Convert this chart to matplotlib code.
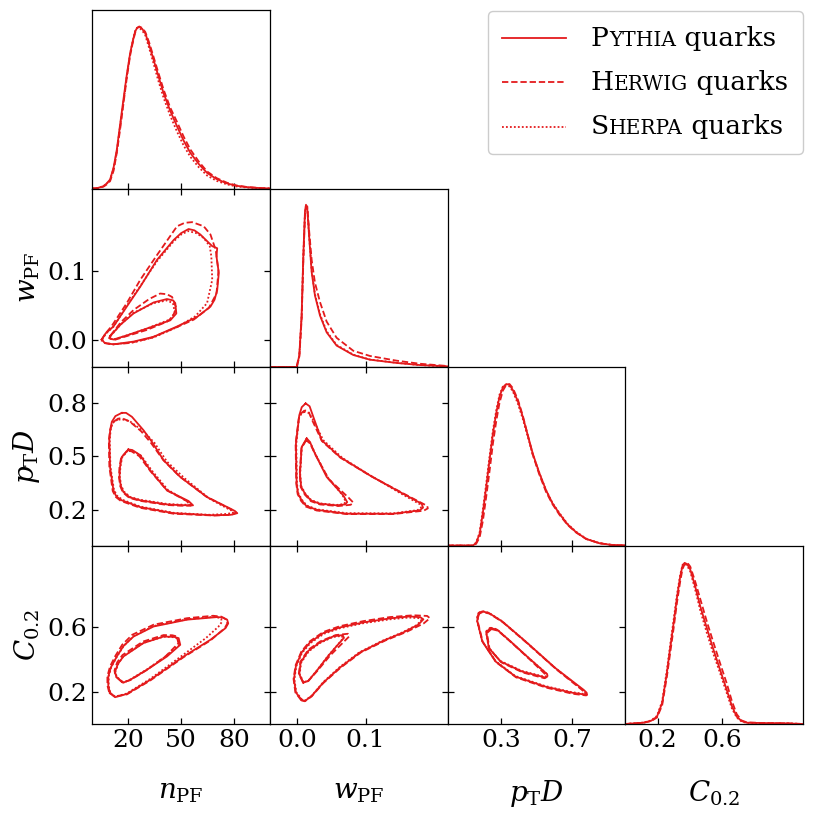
import numpy as np
import matplotlib.pyplot as plt
from matplotlib.offsetbox import AnchoredOffsetbox, HPacker, VPacker, TextArea, DrawingArea
from matplotlib.lines import Line2D

plt.rcParams['font.family'] = 'serif'
plt.rcParams['font.serif'] = ['DejaVu Serif']
plt.rcParams['mathtext.fontset'] = 'dejavuserif'

# variables
var_labels = [r'$n_{\mathrm{PF}}$', r'$w_{\mathrm{PF}}$', r'$p_{\mathrm{T}}D$', r'$C_{0.2}$']
var_ranges = [(0, 100), (-0.04, 0.22), (0, 1.0), (0, 1.1)]
x_ticks = [[20, 50, 80], [0.0, 0.1], [0.3, 0.7], [0.2, 0.6]]
x_ticklabels = [['20', '50', '80'], ['0.0', '0.1'], ['0.3', '0.7'], ['0.2', '0.6']]
y_ticks = [[], [0.0, 0.1], [0.2, 0.5, 0.8], [0.2, 0.6]]
y_ticklabels = [[], ['0.0', '0.1'], ['0.2', '0.5', '0.8'], ['0.2', '0.6']]

generators = ['Pythia', 'Herwig', 'Sherpa']

# 1D distributions (relative height)
n_grid = [0, 3, 6.2, 8, 10, 12, 13.8, 15.6, 17.5, 19.4, 21.3, 22.8, 24.1, 25.2, 26.4, 28, 29.8, 32, 34.5, 37,
          40.1, 43.8, 47.7, 51.4, 55.2, 60, 64.6, 70, 75.9, 81, 87.2, 94, 100]
n_pythia = [0, 0.003, 0.014, 0.03, 0.055, 0.13, 0.24, 0.39, 0.547, 0.70, 0.834, 0.91, 0.967, 0.99, 0.997, 0.985,
            0.957, 0.885, 0.793, 0.70, 0.588, 0.48, 0.383, 0.295, 0.219, 0.15, 0.096, 0.058, 0.031, 0.017, 0.008, 0.003, 0]
n_herwig = [0, 0.002, 0.011, 0.024, 0.045, 0.11, 0.22, 0.36, 0.52, 0.68, 0.82, 0.90, 0.96, 0.988, 0.998, 0.99,
            0.965, 0.90, 0.81, 0.72, 0.61, 0.50, 0.41, 0.32, 0.24, 0.165, 0.105, 0.064, 0.035, 0.019, 0.009, 0.003, 0]
n_sherpa = [0, 0.003, 0.013, 0.028, 0.052, 0.125, 0.23, 0.38, 0.53, 0.69, 0.83, 0.91, 0.97, 0.99, 0.99, 0.975,
            0.945, 0.865, 0.77, 0.67, 0.56, 0.45, 0.35, 0.265, 0.195, 0.13, 0.08, 0.047, 0.025, 0.013, 0.006, 0.002, 0]

w_grid = [-0.04, -0.001, 0.0029, 0.0063, 0.0088, 0.0112, 0.0127, 0.0146, 0.0175, 0.021, 0.0258, 0.0332, 0.0429,
          0.0575, 0.0819, 0.1063, 0.1453, 0.1795, 0.22]
w_pythia = [0, 0, 0.07, 0.317, 0.688, 0.956, 1.0, 0.976, 0.791, 0.585, 0.441, 0.317, 0.214, 0.132, 0.074, 0.045,
            0.025, 0.012, 0.004]
w_herwig = [0, 0, 0.06, 0.29, 0.65, 0.93, 0.985, 0.99, 0.83, 0.66, 0.52, 0.40, 0.28, 0.18, 0.10, 0.068, 0.039, 0.02, 0.006]
w_sherpa = [0, 0, 0.068, 0.31, 0.68, 0.95, 0.995, 0.975, 0.80, 0.595, 0.45, 0.325, 0.22, 0.136, 0.076, 0.046,
            0.026, 0.012, 0.004]

p_grid = [0, 0.142, 0.16, 0.18, 0.198, 0.217, 0.236, 0.255, 0.274, 0.292, 0.311, 0.33, 0.348, 0.367, 0.395, 0.423,
          0.451, 0.479, 0.515, 0.554, 0.59, 0.629, 0.675, 0.723, 0.78, 0.854, 0.92, 1.0]
p_pythia = [0, 0, 0.015, 0.072, 0.20, 0.36, 0.53, 0.69, 0.82, 0.917, 0.975, 0.995, 0.99, 0.958, 0.89, 0.793, 0.68,
            0.567, 0.45, 0.34, 0.26, 0.196, 0.13, 0.082, 0.04, 0.014, 0.004, 0]
p_herwig = [0, 0, 0.01, 0.05, 0.15, 0.30, 0.46, 0.63, 0.77, 0.88, 0.955, 0.99, 0.995, 0.97, 0.90, 0.80, 0.68,
            0.56, 0.44, 0.33, 0.255, 0.19, 0.127, 0.08, 0.04, 0.014, 0.004, 0]
p_sherpa = [0, 0, 0.018, 0.08, 0.22, 0.38, 0.55, 0.71, 0.835, 0.93, 0.98, 0.99, 0.98, 0.95, 0.875, 0.78, 0.67,
            0.56, 0.45, 0.34, 0.262, 0.2, 0.133, 0.085, 0.042, 0.015, 0.004, 0]

c_grid = [0, 0.113, 0.16, 0.196, 0.228, 0.257, 0.278, 0.299, 0.32, 0.34, 0.354, 0.367, 0.383, 0.402, 0.432, 0.464,
          0.505, 0.546, 0.588, 0.628, 0.66, 0.69, 0.72, 0.752, 0.85, 1.0, 1.1]
c_pythia = [0, 0.008, 0.02, 0.045, 0.13, 0.313, 0.47, 0.622, 0.78, 0.91, 0.975, 0.993, 0.985, 0.952, 0.85, 0.725,
            0.59, 0.457, 0.33, 0.21, 0.11, 0.045, 0.018, 0.008, 0.006, 0.004, 0]
c_herwig = [0, 0.008, 0.018, 0.04, 0.115, 0.29, 0.44, 0.59, 0.75, 0.88, 0.955, 0.985, 0.995, 0.97, 0.88, 0.77,
            0.63, 0.50, 0.37, 0.25, 0.14, 0.06, 0.022, 0.01, 0.006, 0.004, 0]
c_sherpa = [0, 0.009, 0.022, 0.05, 0.14, 0.33, 0.49, 0.64, 0.80, 0.92, 0.98, 0.99, 0.975, 0.94, 0.83, 0.70,
            0.56, 0.43, 0.31, 0.19, 0.095, 0.04, 0.015, 0.007, 0.005, 0.004, 0]

# 2D contour outlines (outer and inner level)
nw_pythia_outer = [(5.3, 0.0), (7.5, 0.009), (11.9, 0.019), (19.4, 0.048), (27.0, 0.077), (36.4, 0.116), (45.8, 0.145),
                   (50.0, 0.155), (54.2, 0.161), (57.5, 0.159), (60.8, 0.153), (67.5, 0.136), (70.3, 0.133), (69.9, 0.121),
                   (71.2, 0.097), (70.3, 0.072), (68.8, 0.058), (66.5, 0.048), (59.0, 0.033), (47.7, 0.019), (34.5, 0.004),
                   (23.2, -0.003), (11.9, -0.007), (7.0, -0.005)]
nw_pythia_inner = [(10.0, 0.005), (16.0, 0.022), (23.2, 0.038), (34.5, 0.054), (42.0, 0.059), (45.5, 0.057), (46.7, 0.053),
                   (47.3, 0.038), (43.9, 0.028), (30.7, 0.016), (19.4, 0.006), (11.9, 0.0), (9.5, 0.002)]
nw_herwig_outer = [(5.0, -0.001), (7.5, 0.009), (11.0, 0.020), (19.4, 0.053), (27.0, 0.087), (36.4, 0.123), (47.7, 0.165),
                   (52.0, 0.170), (56.2, 0.171), (62.7, 0.165), (66.5, 0.153), (69.5, 0.130), (71.0, 0.100), (69.9, 0.067),
                   (65.6, 0.046), (57.1, 0.029), (45.8, 0.016), (32.6, 0.002), (21.3, -0.005), (11.0, -0.007), (6.5, -0.005)]
nw_herwig_inner = [(10.3, 0.006), (16.0, 0.025), (23.2, 0.043), (32.0, 0.059), (38.2, 0.067), (42.0, 0.066), (44.9, 0.062),
                   (47.3, 0.046), (45.0, 0.032), (42.0, 0.026), (30.7, 0.014), (19.4, 0.005), (11.9, -0.001), (9.7, 0.002)]
nw_sherpa_outer = [(5.5, 0.0), (7.8, 0.009), (12.0, 0.019), (19.4, 0.049), (27.0, 0.078), (36.4, 0.114), (45.8, 0.143),
                   (50.0, 0.153), (54.0, 0.158), (58.5, 0.155), (62.7, 0.148), (66.1, 0.136), (67.0, 0.121), (67.5, 0.087),
                   (64.6, 0.053), (58.0, 0.034), (47.7, 0.018), (34.5, 0.003), (23.2, -0.004), (11.9, -0.007), (7.2, -0.005)]
nw_sherpa_inner = [(10.2, 0.005), (16.0, 0.022), (23.2, 0.039), (34.5, 0.053), (42.0, 0.057), (45.4, 0.053), (46.5, 0.039),
                   (43.5, 0.029), (30.7, 0.016), (19.4, 0.006), (11.9, 0.0), (9.6, 0.002)]

np_pythia_outer = [(16.6, 0.743), (13.0, 0.725), (11.0, 0.693), (10.1, 0.650), (9.6, 0.590), (10.0, 0.440), (11.9, 0.309),
                   (13.5, 0.275), (16.6, 0.253), (27.0, 0.215), (45.8, 0.181), (68.4, 0.169), (78.0, 0.172), (81.6, 0.181),
                   (80.3, 0.193), (77.8, 0.206), (64.6, 0.271), (49.5, 0.384), (40.1, 0.478), (33.6, 0.580), (28.8, 0.646),
                   (22.3, 0.721), (19.0, 0.743)]
np_pythia_inner = [(20.3, 0.538), (16.6, 0.496), (15.6, 0.440), (15.3, 0.384), (16.0, 0.335), (17.5, 0.300), (21.0, 0.270),
                   (27.0, 0.253), (42.0, 0.230), (50.0, 0.226), (56.7, 0.225), (54.2, 0.249), (42.0, 0.309), (32.6, 0.421),
                   (27.0, 0.506), (22.5, 0.535)]
np_herwig_outer = [(14.7, 0.712), (11.5, 0.690), (10.0, 0.645), (9.3, 0.590), (9.6, 0.440), (11.5, 0.305), (13.2, 0.272),
                   (16.0, 0.250), (27.0, 0.211), (45.8, 0.178), (68.4, 0.168), (78.5, 0.172), (81.0, 0.183), (79.5, 0.195),
                   (77.0, 0.208), (64.0, 0.275), (49.0, 0.388), (40.0, 0.478), (33.0, 0.575), (27.5, 0.640), (21.0, 0.695),
                   (17.0, 0.712)]
np_herwig_inner = [(19.5, 0.530), (16.2, 0.490), (15.3, 0.440), (15.0, 0.384), (15.7, 0.333), (17.2, 0.298), (20.8, 0.267),
                   (27.0, 0.250), (42.0, 0.227), (49.5, 0.223), (55.5, 0.223), (53.5, 0.247), (42.0, 0.309), (32.6, 0.418),
                   (26.5, 0.500), (22.0, 0.528)]
np_sherpa_outer = [(14.2, 0.705), (11.2, 0.685), (10.3, 0.645), (9.8, 0.590), (10.2, 0.440), (12.2, 0.312), (13.9, 0.279),
                   (17.0, 0.256), (27.0, 0.218), (45.8, 0.183), (66.0, 0.172), (76.0, 0.177), (79.5, 0.185), (78.5, 0.195),
                   (76.5, 0.205), (66.0, 0.262), (52.0, 0.376), (42.0, 0.470), (35.0, 0.575), (29.0, 0.638), (21.0, 0.697),
                   (17.0, 0.706)]
np_sherpa_inner = [(20.0, 0.532), (16.8, 0.494), (15.8, 0.440), (15.5, 0.384), (16.2, 0.337), (17.8, 0.302), (21.3, 0.272),
                   (27.0, 0.256), (42.0, 0.233), (49.0, 0.229), (55.0, 0.228), (53.0, 0.250), (42.5, 0.312), (33.5, 0.420),
                   (27.5, 0.503), (22.5, 0.530)]

nc_pythia_outer = [(10.0, 0.190), (12.8, 0.165), (19.4, 0.185), (32.6, 0.272), (51.4, 0.416), (66.5, 0.519), (75.0, 0.591),
                   (76.5, 0.620), (75.9, 0.643), (73.5, 0.656), (70.3, 0.659), (53.3, 0.643), (34.5, 0.601), (23.2, 0.539),
                   (17.5, 0.480), (13.8, 0.416), (10.5, 0.350), (9.0, 0.292), (9.0, 0.235)]
nc_pythia_inner = [(16.6, 0.261), (13.5, 0.290), (12.8, 0.323), (14.5, 0.372), (17.5, 0.416), (28.8, 0.499), (40.1, 0.539),
                   (46.0, 0.537), (48.6, 0.529), (49.5, 0.488), (42.0, 0.416), (30.7, 0.334), (21.3, 0.272), (17.5, 0.255)]
nc_herwig_outer = [(9.5, 0.195), (12.5, 0.170), (19.4, 0.182), (32.6, 0.268), (51.4, 0.412), (66.5, 0.515), (74.5, 0.590),
                   (76.0, 0.620), (75.5, 0.643), (72.5, 0.662), (68.0, 0.667), (53.3, 0.652), (34.5, 0.612), (22.5, 0.550),
                   (16.8, 0.488), (13.0, 0.420), (10.0, 0.355), (8.5, 0.295), (8.5, 0.238)]
nc_herwig_inner = [(16.0, 0.265), (13.0, 0.295), (12.5, 0.330), (14.0, 0.380), (17.0, 0.425), (28.5, 0.508), (40.1, 0.548),
                   (45.0, 0.547), (47.5, 0.540), (48.5, 0.498), (41.5, 0.420), (30.7, 0.333), (21.3, 0.270), (17.0, 0.256)]
nc_sherpa_outer = [(10.2, 0.190), (13.0, 0.168), (19.4, 0.188), (32.6, 0.278), (51.0, 0.425), (64.0, 0.530), (71.0, 0.600),
                   (73.0, 0.630), (72.5, 0.648), (70.5, 0.657), (68.0, 0.660), (53.3, 0.645), (34.5, 0.604), (23.2, 0.541),
                   (17.7, 0.482), (14.0, 0.418), (10.7, 0.352), (9.2, 0.293), (9.2, 0.236)]
nc_sherpa_inner = [(16.8, 0.262), (13.7, 0.291), (13.0, 0.323), (14.7, 0.373), (17.5, 0.418), (28.8, 0.500), (40.1, 0.538),
                   (45.5, 0.535), (48.0, 0.527), (48.8, 0.488), (41.5, 0.418), (30.7, 0.336), (21.3, 0.274), (17.7, 0.256)]

wp_pythia_outer = [(0.0122, 0.796), (0.0065, 0.775), (0.0029, 0.730), (-0.002, 0.571), (-0.001, 0.347), (0.001, 0.290),
                   (0.0064, 0.253), (0.013, 0.222), (0.0283, 0.200), (0.0722, 0.178), (0.1404, 0.178), (0.179, 0.197),
                   (0.184, 0.212), (0.182, 0.234), (0.150, 0.300), (0.106, 0.393), (0.0624, 0.496), (0.0356, 0.590),
                   (0.0234, 0.721), (0.018, 0.780)]
wp_pythia_inner = [(0.0137, 0.600), (0.0064, 0.552), (0.0039, 0.403), (0.0055, 0.330), (0.0112, 0.290), (0.020, 0.252),
                   (0.0332, 0.234), (0.0576, 0.225), (0.070, 0.230), (0.073, 0.243), (0.0672, 0.281), (0.043, 0.384),
                   (0.0258, 0.515), (0.0185, 0.580)]
wp_herwig_outer = [(0.0110, 0.758), (0.0055, 0.740), (0.0020, 0.710), (-0.0025, 0.571), (-0.0015, 0.347), (0.0005, 0.288),
                   (0.0055, 0.250), (0.0125, 0.218), (0.0283, 0.196), (0.0722, 0.176), (0.1404, 0.176), (0.185, 0.195),
                   (0.191, 0.208), (0.190, 0.222), (0.155, 0.292), (0.108, 0.388), (0.0630, 0.492), (0.0360, 0.585),
                   (0.0220, 0.700), (0.0170, 0.745)]
wp_herwig_inner = [(0.0130, 0.590), (0.0060, 0.545), (0.0035, 0.403), (0.0050, 0.328), (0.0110, 0.285), (0.020, 0.248),
                   (0.0332, 0.230), (0.0600, 0.221), (0.078, 0.228), (0.082, 0.240), (0.075, 0.268), (0.046, 0.372),
                   (0.0270, 0.505), (0.0185, 0.572)]
wp_sherpa_outer = [(0.0105, 0.750), (0.0060, 0.738), (0.0025, 0.715), (-0.0015, 0.571), (-0.0005, 0.347), (0.0015, 0.292),
                   (0.0070, 0.255), (0.0138, 0.224), (0.0290, 0.202), (0.0722, 0.181), (0.1404, 0.180), (0.176, 0.198),
                   (0.181, 0.213), (0.179, 0.232), (0.150, 0.295), (0.110, 0.385), (0.0660, 0.490), (0.0380, 0.590),
                   (0.0230, 0.705), (0.0170, 0.742)]
wp_sherpa_inner = [(0.0135, 0.595), (0.0065, 0.550), (0.0042, 0.403), (0.0058, 0.332), (0.0115, 0.292), (0.0205, 0.254),
                   (0.0335, 0.236), (0.0570, 0.227), (0.068, 0.232), (0.071, 0.245), (0.066, 0.283), (0.044, 0.384),
                   (0.0265, 0.512), (0.0190, 0.575)]

wc_pythia_outer = [(0.0063, 0.148), (-0.002, 0.194), (-0.0049, 0.276), (-0.002, 0.358), (0.0063, 0.441), (0.0185, 0.503),
                   (0.038, 0.560), (0.0624, 0.595), (0.0966, 0.626), (0.1356, 0.651), (0.1648, 0.663), (0.180, 0.658),
                   (0.1845, 0.645), (0.177, 0.612), (0.155, 0.564), (0.1258, 0.513), (0.0917, 0.441), (0.0624, 0.348),
                   (0.038, 0.255), (0.021, 0.173), (0.0112, 0.142)]
wc_pythia_inner = [(0.0088, 0.255), (0.0029, 0.307), (0.0049, 0.379), (0.0161, 0.451), (0.0332, 0.503), (0.0527, 0.540),
                   (0.0663, 0.548), (0.0683, 0.531), (0.060, 0.492), (0.0453, 0.420), (0.0283, 0.327), (0.0161, 0.266)]
wc_herwig_outer = [(0.0058, 0.146), (-0.0028, 0.194), (-0.0055, 0.278), (-0.0025, 0.362), (0.0060, 0.447), (0.0185, 0.510),
                   (0.038, 0.567), (0.0624, 0.603), (0.0966, 0.634), (0.1356, 0.659), (0.170, 0.670), (0.190, 0.666),
                   (0.194, 0.652), (0.185, 0.620), (0.160, 0.568), (0.129, 0.515), (0.093, 0.441), (0.063, 0.346),
                   (0.038, 0.252), (0.021, 0.170), (0.011, 0.140)]
wc_herwig_inner = [(0.0082, 0.257), (0.0022, 0.310), (0.0045, 0.384), (0.0161, 0.458), (0.0340, 0.510), (0.0560, 0.548),
                   (0.0740, 0.556), (0.0760, 0.540), (0.066, 0.498), (0.048, 0.422), (0.029, 0.326), (0.0158, 0.264)]
wc_sherpa_outer = [(0.0068, 0.150), (-0.0015, 0.196), (-0.0043, 0.276), (-0.0015, 0.356), (0.0068, 0.438), (0.0195, 0.500),
                   (0.039, 0.556), (0.0630, 0.591), (0.0966, 0.621), (0.1356, 0.645), (0.1630, 0.656), (0.1790, 0.652),
                   (0.1815, 0.640), (0.175, 0.610), (0.153, 0.563), (0.124, 0.512), (0.0905, 0.441), (0.0618, 0.350),
                   (0.038, 0.258), (0.0215, 0.176), (0.0115, 0.145)]
wc_sherpa_inner = [(0.0092, 0.257), (0.0035, 0.307), (0.0055, 0.377), (0.0168, 0.448), (0.0335, 0.500), (0.0520, 0.536),
                   (0.0650, 0.543), (0.0670, 0.528), (0.0595, 0.490), (0.0450, 0.420), (0.0285, 0.329), (0.0165, 0.268)]

pc_pythia_outer = [(0.176, 0.684), (0.168, 0.662), (0.167, 0.632), (0.195, 0.509), (0.270, 0.385), (0.382, 0.292),
                   (0.551, 0.230), (0.700, 0.193), (0.785, 0.179), (0.782, 0.193), (0.766, 0.210), (0.607, 0.344),
                   (0.438, 0.509), (0.307, 0.632), (0.232, 0.684), (0.195, 0.694)]
pc_pythia_inner = [(0.242, 0.591), (0.217, 0.567), (0.232, 0.468), (0.298, 0.385), (0.420, 0.323), (0.551, 0.286),
                   (0.562, 0.296), (0.560, 0.307), (0.457, 0.406), (0.354, 0.509), (0.279, 0.581)]
pc_herwig_outer = [(0.178, 0.680), (0.171, 0.658), (0.170, 0.628), (0.198, 0.505), (0.274, 0.380), (0.386, 0.287),
                   (0.555, 0.224), (0.705, 0.186), (0.780, 0.176), (0.777, 0.190), (0.762, 0.205), (0.615, 0.334),
                   (0.445, 0.500), (0.312, 0.626), (0.236, 0.680), (0.197, 0.690)]
pc_herwig_inner = [(0.246, 0.585), (0.221, 0.560), (0.236, 0.462), (0.302, 0.380), (0.424, 0.317), (0.545, 0.282),
                   (0.558, 0.290), (0.556, 0.300), (0.462, 0.398), (0.359, 0.502), (0.283, 0.575)]
pc_sherpa_outer = [(0.175, 0.686), (0.167, 0.664), (0.166, 0.634), (0.194, 0.512), (0.268, 0.389), (0.380, 0.296),
                   (0.548, 0.234), (0.695, 0.197), (0.775, 0.184), (0.772, 0.197), (0.758, 0.212), (0.600, 0.350),
                   (0.432, 0.515), (0.303, 0.636), (0.230, 0.686), (0.194, 0.696)]
pc_sherpa_inner = [(0.240, 0.594), (0.216, 0.570), (0.231, 0.471), (0.296, 0.389), (0.418, 0.327), (0.548, 0.290),
                   (0.559, 0.300), (0.557, 0.310), (0.453, 0.410), (0.350, 0.512), (0.277, 0.584)]

diag = {
    0: (n_grid, [n_pythia, n_herwig, n_sherpa]),
    1: (w_grid, [w_pythia, w_herwig, w_sherpa]),
    2: (p_grid, [p_pythia, p_herwig, p_sherpa]),
    3: (c_grid, [c_pythia, c_herwig, c_sherpa]),
}
contours = {
    (1, 0): [(nw_pythia_outer, nw_pythia_inner), (nw_herwig_outer, nw_herwig_inner), (nw_sherpa_outer, nw_sherpa_inner)],
    (2, 0): [(np_pythia_outer, np_pythia_inner), (np_herwig_outer, np_herwig_inner), (np_sherpa_outer, np_sherpa_inner)],
    (3, 0): [(nc_pythia_outer, nc_pythia_inner), (nc_herwig_outer, nc_herwig_inner), (nc_sherpa_outer, nc_sherpa_inner)],
    (2, 1): [(wp_pythia_outer, wp_pythia_inner), (wp_herwig_outer, wp_herwig_inner), (wp_sherpa_outer, wp_sherpa_inner)],
    (3, 1): [(wc_pythia_outer, wc_pythia_inner), (wc_herwig_outer, wc_herwig_inner), (wc_sherpa_outer, wc_sherpa_inner)],
    (3, 2): [(pc_pythia_outer, pc_pythia_inner), (pc_herwig_outer, pc_herwig_inner), (pc_sherpa_outer, pc_sherpa_inner)],
}

red = '#e41a1c'
styles = ['-', (0, (3.5, 1.6)), (0, (1, 1.2))]
lw = 1.3

fig, axes = plt.subplots(4, 4, figsize=(8.14, 8.14), dpi=100)
fig.subplots_adjust(left=92.3 / 814, right=803 / 814, top=1 - 10 / 814, bottom=1 - 724 / 814,
                    wspace=0, hspace=0)

for i in range(4):
    for j in range(4):
        ax = axes[i, j]
        if j > i:
            ax.set_visible(False)
            continue
        ax.set_xlim(var_ranges[j])
        ax.set_xticks(x_ticks[j])
        if i == j:
            grid, curves = diag[i]
            for h, ls in zip(curves, styles):
                ax.plot(grid, h, color=red, lw=lw, ls=ls)
            ax.set_ylim(0, 1.1)
            ax.set_yticks([])
            ax.tick_params(axis='x', direction='in', length=4.5, width=0.9)
        else:
            for (outer, inner), ls in zip(contours[(i, j)], styles):
                for cont in (outer, inner):
                    pts = np.array(cont + [cont[0]])
                    ax.plot(pts[:, 0], pts[:, 1], color=red, lw=lw, ls=ls)
            ax.set_ylim(var_ranges[i])
            ax.set_yticks(y_ticks[i])
            ax.tick_params(direction='in', top=True, right=True, length=4.5, width=0.9)
        for s in ax.spines.values():
            s.set_linewidth(0.9)
        if i == 3:
            ax.set_xticklabels(x_ticklabels[j], fontsize=18)
            ax.set_xlabel(var_labels[j], fontsize=20)
            ax.xaxis.set_label_coords(0.5, -0.305)
        else:
            ax.tick_params(labelbottom=False)
        if j == 0 and i > 0:
            ax.set_yticklabels(y_ticklabels[i], fontsize=18)
            ax.set_ylabel(var_labels[i], fontsize=20)
            ax.yaxis.set_label_coords(-0.285, 0.5)
        else:
            ax.tick_params(labelleft=False)

# legend with small-caps generator names
rows = []
for name, ls in zip(generators, styles):
    da = DrawingArea(46, 14, 0, 0)
    da.add_artist(Line2D([0, 46], [7, 7], color=red, lw=lw, ls=ls))
    parts = [TextArea(name[0], textprops=dict(size=19)),
             TextArea(name[1:].upper(), textprops=dict(size=14.5)),
             TextArea(' quarks', textprops=dict(size=19))]
    txt = HPacker(children=parts, align='baseline', pad=0, sep=0)
    rows.append(HPacker(children=[da, txt], align='center', pad=0, sep=18))
box = VPacker(children=rows, align='left', pad=0, sep=14)
leg = AnchoredOffsetbox(loc='upper right', child=box, pad=0.55, frameon=True, borderpad=0,
                        prop=dict(size=19),
                        bbox_to_anchor=(803 / 814, 1 - 11 / 814), bbox_transform=fig.transFigure)
leg.patch.set_boxstyle('round,pad=0,rounding_size=0.2')
leg.patch.set_edgecolor('0.8')
leg.patch.set_linewidth(1.0)
fig.add_artist(leg)

fig.savefig('out.png', dpi=100)
